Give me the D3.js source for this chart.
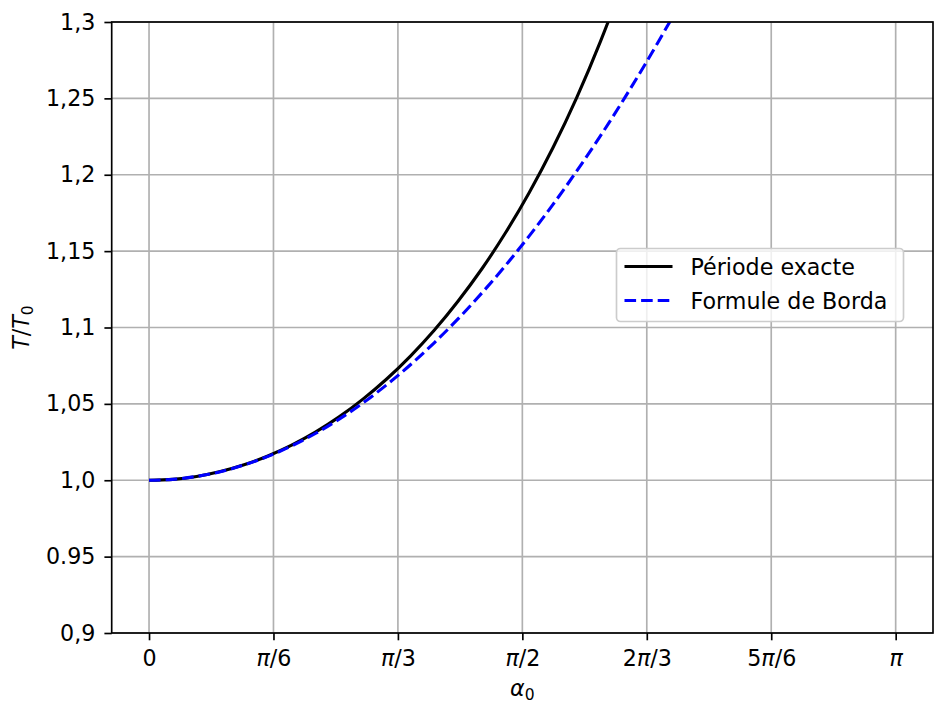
<!DOCTYPE html>
<html>
<head>
<meta charset="utf-8">
<script src="https://cdn.jsdelivr.net/npm/d3@7"></script>
<style>
  html, body { margin: 0; padding: 0; background: #fff; }
  svg { display: block; font-family: "DejaVu Sans", sans-serif; }
</style>
</head>
<body>
<svg id="chart" width="937" height="705"></svg>
<script>
// Values
const alpha = [0, 0.1, 0.2, 0.3, 0.4, 0.5, 0.6, 0.7, 0.8, 0.9, 1.0,
               1.1, 1.2, 1.3, 1.4, 1.5, 1.6, 1.7, 1.8, 1.9, 2.0, 2.1, 2.2];
const periodeExacte = [1.0000, 1.0006, 1.0025, 1.0057, 1.0101, 1.0159, 1.0230, 1.0315,
                       1.0415, 1.0531, 1.0663, 1.0813, 1.0982, 1.1172, 1.1383, 1.1620,
                       1.1884, 1.2178, 1.2507, 1.2875, 1.3289, 1.3760, 1.4290];
const formuleBorda = [1.0000, 1.0006, 1.0025, 1.0056, 1.0100, 1.0156, 1.0225, 1.0306,
                      1.0400, 1.0506, 1.0625, 1.0756, 1.0900, 1.1056, 1.1225, 1.1406,
                      1.1600, 1.1806, 1.2025, 1.2256, 1.2500, 1.2756, 1.3025];

const xTicks = [0, Math.PI / 6, Math.PI / 3, Math.PI / 2, 2 * Math.PI / 3, 5 * Math.PI / 6, Math.PI];
const xTickLabels = ["0", "π/6", "π/3", "π/2", "2π/3", "5π/6", "π"];
const yTicks = [0.9, 0.95, 1.0, 1.05, 1.1, 1.15, 1.2, 1.25, 1.3];
const yTickLabels = ["0,9", "0.95", "1,0", "1,05", "1,1", "1,15", "1,2", "1,25", "1,3"];

const series = [
    { name: "Période exacte", values: periodeExacte, color: "#000000", dash: null },
    { name: "Formule de Borda", values: formuleBorda, color: "#0000ff", dash: "11.6,5" }
];

// Layout
const fontSize = 22.2;
const plot = { left: 111.7, right: 933, top: 22, bottom: 633 };

const svg = d3.select("#chart");

const x = d3.scaleLinear()
    .domain([-0.05 * Math.PI, 1.05 * Math.PI])
    .range([plot.left, plot.right]);
const y = d3.scaleLinear()
    .domain([0.9, 1.3])
    .range([plot.bottom, plot.top]);

// Clip path for the data lines
svg.append("defs").append("clipPath")
    .attr("id", "clip")
    .append("rect")
    .attr("x", plot.left)
    .attr("y", plot.top)
    .attr("width", plot.right - plot.left)
    .attr("height", plot.bottom - plot.top);

// Grid
const grid = svg.append("g").attr("class", "grid");
grid.selectAll("line.gx")
    .data(xTicks)
    .enter()
    .append("line")
    .attr("x1", d => x(d)).attr("x2", d => x(d))
    .attr("y1", plot.top).attr("y2", plot.bottom)
    .style("stroke", "#b0b0b0")
    .style("stroke-width", 1.67);
grid.selectAll("line.gy")
    .data(yTicks)
    .enter()
    .append("line")
    .attr("x1", plot.left).attr("x2", plot.right)
    .attr("y1", d => y(d)).attr("y2", d => y(d))
    .style("stroke", "#b0b0b0")
    .style("stroke-width", 1.67);

// Lines
const line = d3.line()
    .x((d, i) => x(alpha[i]))
    .y(d => y(d))
    .curve(d3.curveCatmullRom);

svg.append("g")
    .attr("clip-path", "url(#clip)")
    .selectAll("path")
    .data(series)
    .enter()
    .append("path")
    .attr("d", d => line(d.values))
    .style("fill", "none")
    .style("stroke", d => d.color)
    .style("stroke-width", 3.1)
    .style("stroke-dasharray", d => d.dash);

// Axes
const xAxis = d3.axisBottom(x)
    .tickValues(xTicks)
    .tickSize(7.3)
    .tickPadding(7.3)
    .tickFormat("");
const yAxis = d3.axisLeft(y)
    .tickValues(yTicks)
    .tickSize(7.3)
    .tickPadding(9)
    .tickFormat((d, i) => yTickLabels[i]);

const gx = svg.append("g")
    .attr("transform", `translate(0,${plot.bottom})`)
    .call(xAxis);
const gy = svg.append("g")
    .attr("transform", `translate(${plot.left},0)`)
    .call(yAxis);

[gx, gy].forEach(g => {
    g.select(".domain").remove();
    g.selectAll(".tick line").style("stroke", "#000").style("stroke-width", 1.67);
    g.selectAll("text")
        .style("font-family", "DejaVu Sans")
        .style("font-size", fontSize + "px")
        .style("fill", "#000");
});

// x tick labels with italic pi
gx.selectAll(".tick").each(function(d, i) {
    const t = d3.select(this).append("text")
        .attr("y", 33)
        .attr("text-anchor", "middle")
        .style("font-family", "DejaVu Sans")
        .style("font-size", fontSize + "px")
        .style("fill", "#000");
    const parts = xTickLabels[i].split("π");
    parts.forEach((p, k) => {
        if (p) t.append("tspan").text(p);
        if (k < parts.length - 1) t.append("tspan").style("font-style", "italic").text("π");
    });
});

// Frame
svg.append("rect")
    .attr("x", plot.left)
    .attr("y", plot.top)
    .attr("width", plot.right - plot.left)
    .attr("height", plot.bottom - plot.top)
    .style("fill", "none")
    .style("stroke", "#000")
    .style("stroke-width", 1.67);

// Axis labels
const xLabel = svg.append("text")
    .attr("x", (plot.left + plot.right) / 2)
    .attr("y", 696)
    .attr("text-anchor", "middle")
    .style("font-size", fontSize + "px");
xLabel.append("tspan").style("font-style", "italic").text("α");
xLabel.append("tspan").attr("dy", 4).style("font-size", (fontSize * 0.7) + "px").text("0");

const yLabel = svg.append("text")
    .attr("transform", `translate(29,${(plot.top + plot.bottom) / 2}) rotate(-90)`)
    .attr("text-anchor", "middle")
    .style("font-size", fontSize + "px");
yLabel.append("tspan").style("font-style", "italic").text("T");
yLabel.append("tspan").text("/");
yLabel.append("tspan").style("font-style", "italic").text("T");
yLabel.append("tspan").attr("dy", 4).style("font-size", (fontSize * 0.7) + "px").text("0");

// Legend
const legend = svg.append("g").attr("transform", "translate(616.5,248.5)");
legend.append("rect")
    .attr("width", 287)
    .attr("height", 73)
    .attr("rx", 4)
    .style("fill", "#fff")
    .style("fill-opacity", 0.8)
    .style("stroke", "#cccccc")
    .style("stroke-width", 1.67);

const items = legend.selectAll("g.item")
    .data(series)
    .enter()
    .append("g")
    .attr("transform", (d, i) => `translate(0,${18 + i * 34})`);
items.append("line")
    .attr("x1", 8).attr("x2", 56)
    .attr("y1", 0).attr("y2", 0)
    .style("stroke", d => d.color)
    .style("stroke-width", 3.1)
    .style("stroke-dasharray", d => d.dash);
items.append("text")
    .attr("x", 74)
    .attr("y", 8)
    .style("font-size", fontSize + "px")
    .text(d => d.name);
</script>
</body>
</html>
